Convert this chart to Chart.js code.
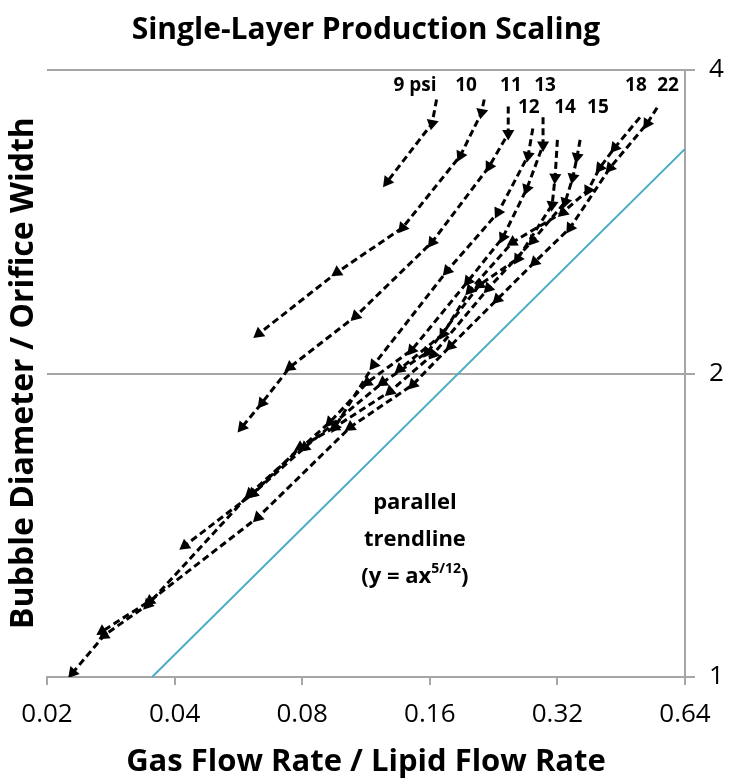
<!DOCTYPE html>
<html>
<head>
<meta charset="utf-8">
<script src="https://cdn.jsdelivr.net/npm/chart.js@4.4.1/dist/chart.umd.min.js"></script>
<style>
  html, body { margin: 0; padding: 0; background: #fff; }
  #wrap { width: 733px; height: 781px; }
</style>
</head>
<body>
<div id="wrap"><canvas id="scalingChart"></canvas></div>
<script>
// axis ticks
const xTicks = [0.02, 0.04, 0.08, 0.16, 0.32, 0.64];
const yTicks = [1, 2, 4];

// each pressure run (first point = start, no arrow)
const psi9X = [0.166, 0.162, 0.127];
const psi9Y = [3.74, 3.54, 3.10];
const psi10X = [0.215, 0.212, 0.189, 0.138, 0.0967, 0.0632];
const psi10Y = [3.74, 3.63, 3.29, 2.79, 2.52, 2.19];
const psi11X = [0.245, 0.245, 0.221, 0.162, 0.107, 0.0749, 0.0643, 0.0577];
const psi11Y = [3.68, 3.46, 3.21, 2.70, 2.28, 2.03, 1.87, 1.77];
const psi12X = [0.280, 0.273, 0.232, 0.176, 0.118, 0.0956, 0.0791, 0.0612, 0.0423];
const psi12Y = [3.50, 3.29, 2.89, 2.53, 2.04, 1.77, 1.69, 1.52, 1.35];
const psi13X = [0.296, 0.296, 0.271, 0.238, 0.197, 0.145, 0.114, 0.093, 0.0602, 0.0346, 0.0273, 0.0230];
const psi13Y = [3.59, 3.37, 3.05, 2.73, 2.47, 2.11, 1.96, 1.79, 1.52, 1.18, 1.10, 1.01];
const psi14X = [0.320, 0.316, 0.311, 0.258, 0.210, 0.158, 0.124, 0.0812, 0.0612];
const psi14Y = [3.41, 3.13, 2.94, 2.60, 2.45, 2.10, 1.96, 1.69, 1.52];
const psi15X = [0.362, 0.356, 0.348, 0.334, 0.280, 0.220, 0.163, 0.129, 0.0956];
const psi15Y = [3.41, 3.28, 3.13, 2.96, 2.71, 2.43, 2.09, 1.92, 1.77];
const psi18X = [0.501, 0.437, 0.403, 0.378, 0.330, 0.251, 0.199, 0.172, 0.136];
const psi18Y = [3.59, 3.35, 3.20, 3.04, 2.89, 2.70, 2.42, 2.19, 2.02];
const psi22X = [0.550, 0.521, 0.426, 0.343, 0.283, 0.231, 0.179, 0.146, 0.104, 0.0629, 0.0350, 0.0270];
const psi22Y = [3.67, 3.54, 3.20, 2.79, 2.58, 2.37, 2.13, 1.95, 1.77, 1.44, 1.19, 1.11];

// parallel trendline end points
const trendX = [0.0354, 0.64];
const trendY = [1.0, 3.34];

// pressure labels at the top of each run
const psiLabels = ['9 psi', '10', '11', '13', '18', '22', '12', '14', '15'];
const psiLabelX = [0.1476, 0.1948, 0.2486, 0.2992, 0.4904, 0.5836, 0.2740, 0.3336, 0.3989];
const psiLabelY = [3.86, 3.86, 3.86, 3.86, 3.86, 3.86, 3.67, 3.67, 3.67];

const runs = [
  [psi9X, psi9Y], [psi10X, psi10Y], [psi11X, psi11Y], [psi12X, psi12Y], [psi13X, psi13Y],
  [psi14X, psi14Y], [psi15X, psi15Y], [psi18X, psi18Y], [psi22X, psi22Y]
];

const FONT = '"Open Sans", Lato, sans-serif';
const GRID = '#a6a6a6';

function toPoints(xs, ys) {
  return xs.map((x, i) => ({ x: x, y: ys[i] }));
}

// rotate each triangle so it points along the segment that ends at it
function arrowAngle(ctx) {
  const d = ctx.dataset.data, i = ctx.dataIndex;
  if (!i) return 0;
  const sx = ctx.chart.scales.x, sy = ctx.chart.scales.y;
  const dx = sx.getPixelForValue(d[i].x) - sx.getPixelForValue(d[i - 1].x);
  const dy = sy.getPixelForValue(d[i].y) - sy.getPixelForValue(d[i - 1].y);
  return Math.atan2(dx, -dy) * 180 / Math.PI;
}

const datasets = runs.map(r => ({
  data: toPoints(r[0], r[1]),
  showLine: true,
  borderColor: '#000',
  backgroundColor: '#000',
  borderWidth: 3,
  borderDash: [7, 4],
  pointStyle: 'triangle',
  pointRadius: ctx => ctx.dataIndex === 0 ? 0 : 7,
  pointBorderWidth: 0,
  pointRotation: arrowAngle
}));

datasets.push({
  data: toPoints(trendX, trendY),
  showLine: true,
  borderColor: '#4bacc6',
  borderWidth: 2,
  pointRadius: 0
});

const textPlugin = {
  id: 'texts',
  afterDraw(chart) {
    const c = chart.ctx, sx = chart.scales.x, sy = chart.scales.y;
    c.save();
    c.fillStyle = '#000';
    c.textAlign = 'center';
    c.textBaseline = 'middle';

    c.font = 'bold 30px ' + FONT;
    c.fillText('Single-Layer Production Scaling', 366, 30);

    c.save();
    c.translate(24, 373);
    c.rotate(-Math.PI / 2);
    c.font = 'bold 32px ' + FONT;
    c.fillText('Bubble Diameter / Orifice Width', 0, 0);
    c.restore();

    c.font = 'bold 19px ' + FONT;
    psiLabels.forEach((t, i) => {
      c.fillText(t, sx.getPixelForValue(psiLabelX[i]), sy.getPixelForValue(psiLabelY[i]));
    });

    const tx = sx.getPixelForValue(0.1476);
    c.font = 'bold 22px ' + FONT;
    c.fillText('parallel', tx, sy.getPixelForValue(1.488));
    c.fillText('trendline', tx, sy.getPixelForValue(1.367));
    const ty = sy.getPixelForValue(1.257);
    const a = '(y = ax', b = '5/12', e = ')';
    const wa = c.measureText(a).width, we = c.measureText(e).width;
    c.font = 'bold 14px ' + FONT;
    const wb = c.measureText(b).width;
    let x0 = tx - (wa + wb + we) / 2;
    c.textAlign = 'left';
    c.font = 'bold 22px ' + FONT;
    c.fillText(a, x0, ty);
    c.font = 'bold 14px ' + FONT;
    c.fillText(b, x0 + wa, ty - 8);
    c.font = 'bold 22px ' + FONT;
    c.fillText(e, x0 + wa + wb, ty);
    c.restore();
  }
};

new Chart(document.getElementById('scalingChart'), {
  type: 'scatter',
  data: { datasets: datasets },
  options: {
    responsive: true,
    maintainAspectRatio: false,
    animation: false,
    layout: { padding: { left: 47, right: 8, top: 70, bottom: 0 } },
    plugins: { legend: { display: false }, tooltip: { enabled: false } },
    scales: {
      x: {
        type: 'logarithmic',
        min: 0.02,
        max: 0.64,
        afterBuildTicks: axis => { axis.ticks = xTicks.map(v => ({ value: v })); },
        afterFit: axis => { axis.height = 104; },
        ticks: {
          autoSkip: false,
          maxRotation: 0,
          padding: 14,
          color: '#000',
          font: { family: FONT, size: 26 },
          callback: v => String(v)
        },
        grid: { drawOnChartArea: false, drawTicks: true, tickLength: 8, color: GRID, lineWidth: 2 },
        border: { color: GRID, width: 2 },
        title: {
          display: true,
          text: 'Gas Flow Rate / Lipid Flow Rate',
          color: '#000',
          font: { family: FONT, size: 31, weight: 'bold' },
          padding: { top: 8, bottom: 0 }
        }
      },
      y: {
        type: 'logarithmic',
        position: 'right',
        min: 1,
        max: 4,
        afterBuildTicks: axis => { axis.ticks = yTicks.map(v => ({ value: v })); },
        afterFit: axis => { axis.width = 40; },
        ticks: {
          autoSkip: false,
          padding: 14,
          color: '#000',
          font: { family: FONT, size: 26 },
          callback: v => String(v)
        },
        grid: { drawTicks: true, tickLength: 10, color: GRID, lineWidth: 2 },
        border: { color: GRID, width: 2 }
      }
    }
  },
  plugins: [textPlugin]
});
</script>
</body>
</html>
